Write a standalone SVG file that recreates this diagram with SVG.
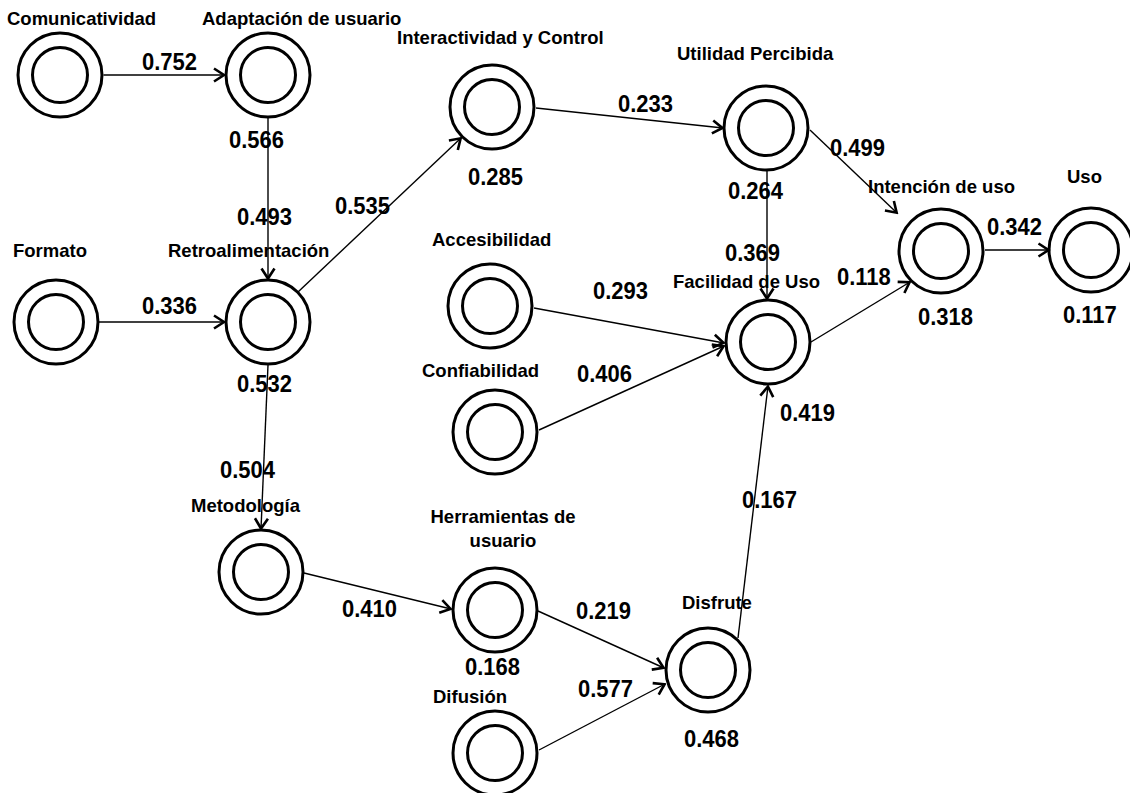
<svg xmlns="http://www.w3.org/2000/svg" width="1130" height="793" viewBox="0 0 1130 793">
  <style>
    .ring { fill: none; stroke: #000; stroke-width: 3; }
    .lbl { font-family: "Liberation Sans", Arial, sans-serif; font-weight: bold; font-size: 18.5px; fill: #000; }
    .val { font-family: "Liberation Sans", Arial, sans-serif; font-weight: bold; font-size: 22px; fill: #000; }
    .edge { fill: none; stroke: #000; stroke-width: 1.4; marker-end: url(#arr); }
  </style>
  <defs>
    <marker id="arr" viewBox="-13 -9 15 18" refX="0.5" refY="0" markerWidth="15" markerHeight="18" markerUnits="userSpaceOnUse" orient="auto">
      <path d="M-10,-6.5 L0,0 L-10,6.5" fill="none" stroke="#000" stroke-width="2.6" stroke-linejoin="miter"/>
    </marker>
    <g id="node">
      <circle r="42" class="ring"/>
      <circle r="27.5" class="ring"/>
    </g>
  </defs>
  <rect width="1130" height="793" fill="#fff"/>

  <!-- connectors -->
  <g id="connectors">
    <line class="edge" x1="103.5" y1="75" x2="224.5" y2="75"/>
    <line class="edge" x1="268" y1="118" x2="268" y2="279"/>
    <line class="edge" x1="99" y1="322" x2="224.5" y2="322"/>
    <line class="edge" x1="298" y1="292" x2="461" y2="138"/>
    <line class="edge" x1="268" y1="365" x2="261" y2="529"/>
    <line class="edge" x1="536" y1="108" x2="723" y2="128"/>
    <line class="edge" x1="767" y1="171" x2="767" y2="299"/>
    <line class="edge" x1="810" y1="130" x2="897" y2="213"/>
    <line class="edge" x1="534" y1="308" x2="724" y2="343"/>
    <line class="edge" x1="539" y1="430" x2="724" y2="346"/>
    <line class="edge" x1="811" y1="342" x2="910" y2="282"/>
    <line class="edge" x1="985" y1="250" x2="1049" y2="250"/>
    <line class="edge" x1="304" y1="573" x2="451" y2="609"/>
    <line class="edge" x1="538" y1="611" x2="664" y2="668"/>
    <line class="edge" x1="539" y1="750" x2="665" y2="684"/>
    <line class="edge" x1="738" y1="638" x2="768" y2="386"/>
  </g>

  <!-- path coefficients (digits drawn slightly tall) -->
  <g id="coefficients">
    <text class="val" transform="translate(142,70) scale(1,1.08)">0.752</text>
    <text class="val" transform="translate(229,148) scale(1,1.08)">0.566</text>
    <text class="val" transform="translate(237,225) scale(1,1.08)">0.493</text>
    <text class="val" transform="translate(335,214) scale(1,1.08)">0.535</text>
    <text class="val" transform="translate(142,314) scale(1,1.08)">0.336</text>
    <text class="val" transform="translate(237,392) scale(1,1.08)">0.532</text>
    <text class="val" transform="translate(220,478) scale(1,1.08)">0.504</text>
    <text class="val" transform="translate(468,185) scale(1,1.08)">0.285</text>
    <text class="val" transform="translate(618,112) scale(1,1.08)">0.233</text>
    <text class="val" transform="translate(728,199) scale(1,1.08)">0.264</text>
    <text class="val" transform="translate(830,156) scale(1,1.08)">0.499</text>
    <text class="val" transform="translate(725,261) scale(1,1.08)">0.369</text>
    <text class="val" transform="translate(837,285) scale(1,1.08)">0.118</text>
    <text class="val" transform="translate(987,235) scale(1,1.08)">0.342</text>
    <text class="val" transform="translate(918,325) scale(1,1.08)">0.318</text>
    <text class="val" transform="translate(1063,323) scale(1,1.08)">0.117</text>
    <text class="val" transform="translate(593,299) scale(1,1.08)">0.293</text>
    <text class="val" transform="translate(577,382) scale(1,1.08)">0.406</text>
    <text class="val" transform="translate(780,421) scale(1,1.08)">0.419</text>
    <text class="val" transform="translate(742,508) scale(1,1.08)">0.167</text>
    <text class="val" transform="translate(342,617) scale(1,1.08)">0.410</text>
    <text class="val" transform="translate(576,619) scale(1,1.08)">0.219</text>
    <text class="val" transform="translate(465,675) scale(1,1.08)">0.168</text>
    <text class="val" transform="translate(578,697) scale(1,1.08)">0.577</text>
    <text class="val" transform="translate(684,747) scale(1,1.08)">0.468</text>
  </g>

  <!-- constructs -->
  <g id="comunicatividad"><use href="#node" x="60" y="75"/><text class="lbl" x="7" y="25">Comunicatividad</text></g>
  <g id="adaptacion"><use href="#node" x="268" y="75"/><text class="lbl" x="202" y="25">Adaptación de usuario</text></g>
  <g id="formato"><use href="#node" x="56" y="322"/><text class="lbl" x="13" y="257">Formato</text></g>
  <g id="retroalimentacion"><use href="#node" x="268" y="322"/><text class="lbl" x="168" y="257">Retroalimentación</text></g>
  <g id="interactividad"><use href="#node" x="492" y="107"/><text class="lbl" x="397" y="44">Interactividad y Control</text></g>
  <g id="utilidad"><use href="#node" x="766" y="128"/><text class="lbl" x="677" y="60">Utilidad Percibida</text></g>
  <g id="intencion"><use href="#node" x="941" y="251"/><text class="lbl" x="868" y="193">Intención de uso</text></g>
  <g id="uso"><use href="#node" x="1091" y="250"/><text class="lbl" x="1067" y="183">Uso</text></g>
  <g id="accesibilidad"><use href="#node" x="490" y="306"/><text class="lbl" x="432" y="246">Accesibilidad</text></g>
  <g id="confiabilidad"><use href="#node" x="495" y="432"/><text class="lbl" x="422" y="377">Confiabilidad</text></g>
  <g id="facilidad"><use href="#node" x="768" y="342"/><text class="lbl" x="673" y="288">Facilidad de Uso</text></g>
  <g id="metodologia"><use href="#node" x="261" y="572"/><text class="lbl" x="191" y="512">Metodología</text></g>
  <g id="herramientas"><use href="#node" x="495" y="610"/><text class="lbl" x="503" y="523" text-anchor="middle">Herramientas de</text><text class="lbl" x="503" y="547" text-anchor="middle">usuario</text></g>
  <g id="disfrute"><use href="#node" x="708" y="670"/><text class="lbl" x="682" y="609">Disfrute</text></g>
  <g id="difusion"><use href="#node" x="495" y="753"/><text class="lbl" x="433" y="703">Difusión</text></g>
</svg>
